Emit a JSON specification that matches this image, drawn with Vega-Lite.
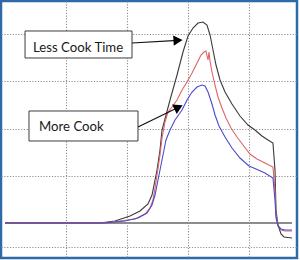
{
  "$schema": "https://vega.github.io/schema/vega-lite/v6.json",
  "width": 296,
  "height": 257,
  "autosize": "none",
  "padding": {"left": 1, "top": 1, "right": 3, "bottom": 2},
  "background": "white",
  "config": {
    "view": {"stroke": "#2f6aa8", "strokeWidth": 2.5},
    "axis": {"labels": false, "ticks": false, "domain": false, "title": null, "grid": true, "gridColor": "#8f8f8f", "gridDash": [1.2, 1.6], "gridWidth": 1.1}
  },
  "datasets": {
    "curves": [
      {"t": 0, "v": 0, "s": "Less Cook Time"},
      {"t": 15.57, "v": 0, "s": "Less Cook Time"},
      {"t": 18.03, "v": 0.85, "s": "Less Cook Time"},
      {"t": 20.49, "v": 2.97, "s": "Less Cook Time"},
      {"t": 22.13, "v": 5.08, "s": "Less Cook Time"},
      {"t": 23.44, "v": 8.05, "s": "Less Cook Time"},
      {"t": 24.1, "v": 11.86, "s": "Less Cook Time"},
      {"t": 24.59, "v": 18.22, "s": "Less Cook Time"},
      {"t": 24.92, "v": 22.46, "s": "Less Cook Time"},
      {"t": 25.41, "v": 30.93, "s": "Less Cook Time"},
      {"t": 25.74, "v": 39.41, "s": "Less Cook Time"},
      {"t": 27.05, "v": 52.12, "s": "Less Cook Time"},
      {"t": 28.2, "v": 62.71, "s": "Less Cook Time"},
      {"t": 29.18, "v": 72.46, "s": "Less Cook Time"},
      {"t": 30.0, "v": 79.24, "s": "Less Cook Time"},
      {"t": 30.82, "v": 82.63, "s": "Less Cook Time"},
      {"t": 31.64, "v": 84.75, "s": "Less Cook Time"},
      {"t": 32.46, "v": 85.17, "s": "Less Cook Time"},
      {"t": 33.11, "v": 83.9, "s": "Less Cook Time"},
      {"t": 33.61, "v": 79.66, "s": "Less Cook Time"},
      {"t": 34.1, "v": 73.31, "s": "Less Cook Time"},
      {"t": 34.59, "v": 66.95, "s": "Less Cook Time"},
      {"t": 35.25, "v": 60.59, "s": "Less Cook Time"},
      {"t": 36.07, "v": 55.51, "s": "Less Cook Time"},
      {"t": 37.21, "v": 50.42, "s": "Less Cook Time"},
      {"t": 38.52, "v": 45.34, "s": "Less Cook Time"},
      {"t": 39.84, "v": 41.53, "s": "Less Cook Time"},
      {"t": 40.98, "v": 39.41, "s": "Less Cook Time"},
      {"t": 42.13, "v": 36.86, "s": "Less Cook Time"},
      {"t": 43.11, "v": 35.17, "s": "Less Cook Time"},
      {"t": 43.93, "v": 33.9, "s": "Less Cook Time"},
      {"t": 44.26, "v": 22.46, "s": "Less Cook Time"},
      {"t": 44.43, "v": 5.51, "s": "Less Cook Time"},
      {"t": 44.75, "v": -0.85, "s": "Less Cook Time"},
      {"t": 45.25, "v": -4.66, "s": "Less Cook Time"},
      {"t": 45.74, "v": -5.93, "s": "Less Cook Time"},
      {"t": 47.05, "v": -6.36, "s": "Less Cook Time"},

      {"t": 0, "v": 0, "s": "Medium"},
      {"t": 16.39, "v": 0, "s": "Medium"},
      {"t": 18.85, "v": 0.85, "s": "Medium"},
      {"t": 21.31, "v": 1.69, "s": "Medium"},
      {"t": 22.95, "v": 3.81, "s": "Medium"},
      {"t": 23.77, "v": 6.36, "s": "Medium"},
      {"t": 24.26, "v": 9.75, "s": "Medium"},
      {"t": 24.59, "v": 14.83, "s": "Medium"},
      {"t": 24.92, "v": 20.34, "s": "Medium"},
      {"t": 25.41, "v": 28.81, "s": "Medium"},
      {"t": 25.74, "v": 36.02, "s": "Medium"},
      {"t": 26.23, "v": 42.8, "s": "Medium"},
      {"t": 26.72, "v": 47.03, "s": "Medium"},
      {"t": 27.38, "v": 49.15, "s": "Medium"},
      {"t": 28.2, "v": 52.12, "s": "Medium"},
      {"t": 29.02, "v": 56.36, "s": "Medium"},
      {"t": 29.84, "v": 59.75, "s": "Medium"},
      {"t": 30.66, "v": 63.56, "s": "Medium"},
      {"t": 31.48, "v": 67.8, "s": "Medium"},
      {"t": 32.13, "v": 71.19, "s": "Medium"},
      {"t": 32.62, "v": 72.46, "s": "Medium"},
      {"t": 32.95, "v": 72.88, "s": "Medium"},
      {"t": 33.28, "v": 69.07, "s": "Medium"},
      {"t": 33.44, "v": 72.46, "s": "Medium"},
      {"t": 33.61, "v": 68.64, "s": "Medium"},
      {"t": 33.93, "v": 63.98, "s": "Medium"},
      {"t": 34.43, "v": 58.47, "s": "Medium"},
      {"t": 34.92, "v": 53.39, "s": "Medium"},
      {"t": 35.57, "v": 48.73, "s": "Medium"},
      {"t": 36.23, "v": 44.49, "s": "Medium"},
      {"t": 37.05, "v": 40.25, "s": "Medium"},
      {"t": 38.03, "v": 36.44, "s": "Medium"},
      {"t": 39.02, "v": 33.05, "s": "Medium"},
      {"t": 40.16, "v": 29.24, "s": "Medium"},
      {"t": 41.31, "v": 27.12, "s": "Medium"},
      {"t": 42.62, "v": 25.42, "s": "Medium"},
      {"t": 43.93, "v": 23.73, "s": "Medium"},
      {"t": 44.26, "v": 13.98, "s": "Medium"},
      {"t": 44.43, "v": 3.39, "s": "Medium"},
      {"t": 44.75, "v": -0.85, "s": "Medium"},
      {"t": 45.25, "v": -2.97, "s": "Medium"},
      {"t": 45.9, "v": -3.39, "s": "Medium"},
      {"t": 47.05, "v": -3.39, "s": "Medium"},

      {"t": 0, "v": 0, "s": "More Cook"},
      {"t": 16.39, "v": 0, "s": "More Cook"},
      {"t": 19.67, "v": 0.85, "s": "More Cook"},
      {"t": 21.8, "v": 2.12, "s": "More Cook"},
      {"t": 23.28, "v": 4.24, "s": "More Cook"},
      {"t": 24.1, "v": 7.63, "s": "More Cook"},
      {"t": 24.59, "v": 11.86, "s": "More Cook"},
      {"t": 24.92, "v": 16.1, "s": "More Cook"},
      {"t": 25.41, "v": 22.46, "s": "More Cook"},
      {"t": 25.9, "v": 28.81, "s": "More Cook"},
      {"t": 26.39, "v": 35.17, "s": "More Cook"},
      {"t": 27.05, "v": 39.41, "s": "More Cook"},
      {"t": 27.87, "v": 43.64, "s": "More Cook"},
      {"t": 29.02, "v": 47.88, "s": "More Cook"},
      {"t": 29.84, "v": 52.12, "s": "More Cook"},
      {"t": 30.66, "v": 55.51, "s": "More Cook"},
      {"t": 31.48, "v": 57.63, "s": "More Cook"},
      {"t": 32.3, "v": 58.47, "s": "More Cook"},
      {"t": 32.79, "v": 58.05, "s": "More Cook"},
      {"t": 33.28, "v": 55.51, "s": "More Cook"},
      {"t": 33.93, "v": 50.42, "s": "More Cook"},
      {"t": 34.43, "v": 45.76, "s": "More Cook"},
      {"t": 35.08, "v": 41.1, "s": "More Cook"},
      {"t": 36.07, "v": 36.44, "s": "More Cook"},
      {"t": 37.21, "v": 31.78, "s": "More Cook"},
      {"t": 38.52, "v": 27.54, "s": "More Cook"},
      {"t": 40.0, "v": 24.15, "s": "More Cook"},
      {"t": 41.15, "v": 22.88, "s": "More Cook"},
      {"t": 42.62, "v": 21.19, "s": "More Cook"},
      {"t": 43.93, "v": 19.07, "s": "More Cook"},
      {"t": 44.26, "v": 9.75, "s": "More Cook"},
      {"t": 44.43, "v": 2.12, "s": "More Cook"},
      {"t": 44.75, "v": -1.27, "s": "More Cook"},
      {"t": 45.25, "v": -2.54, "s": "More Cook"},
      {"t": 45.9, "v": -2.97, "s": "More Cook"},
      {"t": 47.05, "v": -2.97, "s": "More Cook"}
    ],
    "boxes": [
      {"label": "Less Cook Time", "x1": 3.28, "x2": 20.82, "y1": 81.36, "y2": 69.92, "tx": 4.59, "ty": 72.46},
      {"label": "More Cook", "x1": 3.93, "x2": 21.8, "y1": 47.46, "y2": 34.75, "tx": 5.57, "ty": 38.98}
    ],
    "arrows": [
      {"label": "Less Cook Time", "x1": 20.82, "y1": 76.27, "x2": 28.36, "y2": 77.4, "ang": 356.6},
      {"label": "More Cook", "x1": 21.8, "y1": 40.68, "x2": 28.44, "y2": 49.07, "ang": 334}
    ]
  },
  "encoding": {
    "x": {"type": "quantitative", "scale": {"domain": [-0.66, 47.87], "nice": false, "zero": false}},
    "y": {"type": "quantitative", "scale": {"domain": [-14.83, 94.07], "nice": false, "zero": false}}
  },
  "layer": [
    {
      "data": {"name": "curves"},
      "mark": {"type": "rule", "color": "#ffffff", "opacity": 0},
      "encoding": {
        "x": {"field": "t", "type": "quantitative", "axis": {"values": [10, 20, 30, 40], "orient": "bottom"}},
        "y": {"field": "v", "type": "quantitative", "axis": {"values": [-10, 10, 20, 30, 40, 50, 60, 70, 80], "orient": "left"}}
      }
    },
    {
      "data": {"name": "curves"},
      "mark": {"type": "rule", "color": "#8c8c8c", "strokeWidth": 1.5},
      "encoding": {
        "x": {"datum": 0},
        "x2": {"datum": 47.05},
        "y": {"datum": 0}
      }
    },
    {
      "data": {"name": "curves"},
      "mark": {"type": "line", "strokeWidth": 1.1, "interpolate": "linear"},
      "encoding": {
        "x": {"field": "t", "type": "quantitative"},
        "y": {"field": "v", "type": "quantitative"},
        "color": {"field": "s", "type": "nominal", "legend": null,
          "scale": {"domain": ["Less Cook Time", "Medium", "More Cook"], "range": ["#3a3a3a", "#e06464", "#4a4ad0"]}}
      }
    },
    {
      "data": {"name": "boxes"},
      "mark": {"type": "rect", "fill": "white", "stroke": "#3c3c3c", "strokeWidth": 1},
      "encoding": {
        "x": {"field": "x1", "type": "quantitative"},
        "x2": {"field": "x2"},
        "y": {"field": "y1", "type": "quantitative"},
        "y2": {"field": "y2"}
      }
    },
    {
      "data": {"name": "boxes"},
      "mark": {"type": "text", "align": "left", "baseline": "alphabetic", "font": "Lato", "fontSize": 13.2, "color": "#1a1a1a"},
      "encoding": {
        "x": {"field": "tx", "type": "quantitative"},
        "y": {"field": "ty", "type": "quantitative"},
        "text": {"field": "label"}
      }
    },
    {
      "data": {"name": "arrows"},
      "mark": {"type": "rule", "color": "#111111", "strokeWidth": 1.2},
      "encoding": {
        "x": {"field": "x1", "type": "quantitative"},
        "y": {"field": "y1", "type": "quantitative"},
        "x2": {"field": "x2"},
        "y2": {"field": "y2"}
      }
    },
    {
      "data": {"name": "arrows"},
      "mark": {"type": "point", "shape": "triangle-right", "filled": true, "color": "#000000", "size": 110, "opacity": 1},
      "encoding": {
        "x": {"field": "x2", "type": "quantitative"},
        "y": {"field": "y2", "type": "quantitative"},
        "angle": {"field": "ang", "type": "quantitative", "scale": null}
      }
    }
  ]
}
